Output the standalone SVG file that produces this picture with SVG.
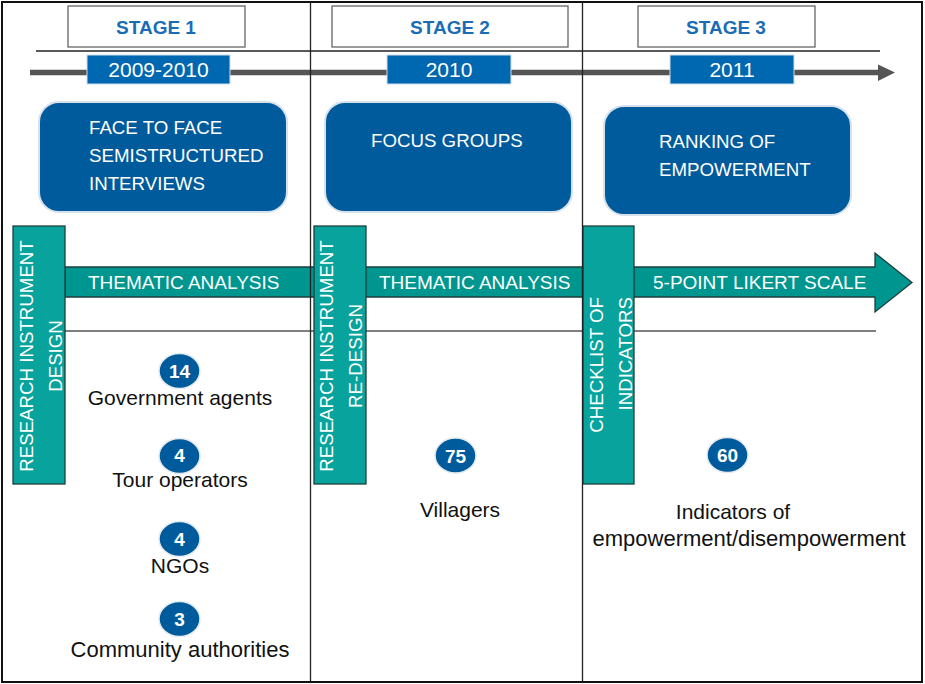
<svg xmlns="http://www.w3.org/2000/svg" width="925" height="684" viewBox="0 0 925 684">
  <defs>
    <style>
      .frame { fill: none; stroke: #111; stroke-width: 2; }
      .rule { stroke: #222; stroke-width: 1.3; fill: none; }
      .thin { stroke: #555; stroke-width: 1.5; fill: none; }
      .stagebox { fill: #fff; stroke: #666; stroke-width: 1.3; }
      .stagetxt { font-family: "Liberation Sans", Arial, sans-serif; font-weight: bold; font-size: 19px; fill: #1a6db5; text-anchor: middle; }
      .yearbox { fill: #0068b0; stroke: #d0dcea; stroke-width: 1; }
      .yeartxt { font-family: "Liberation Sans", Arial, sans-serif; font-size: 21px; fill: #fff; text-anchor: middle; }
      .method { fill: #005b9c; stroke: #d6e1ec; stroke-width: 2; }
      .methodtxt { font-family: "Liberation Sans", Arial, sans-serif; font-size: 18.7px; fill: #fff; }
      .bar { fill: #07a39c; stroke: #1c3f3e; stroke-width: 1.3; }
      .band { fill: #009690; stroke: #1c3f3e; stroke-width: 1.3; }
      .bandtxt { font-family: "Liberation Sans", Arial, sans-serif; font-size: 19px; fill: #fff; }
      .bartxt { font-family: "Liberation Sans", Arial, sans-serif; font-size: 18.7px; fill: #fff; }
      .badge { fill: #005b9c; stroke: #e4e9ef; stroke-width: 1.5; }
      .badgetxt { font-family: "Liberation Sans", Arial, sans-serif; font-weight: bold; font-size: 19px; fill: #fff; text-anchor: middle; }
      .label { font-family: "Liberation Sans", Arial, sans-serif; font-size: 21px; fill: #111; text-anchor: middle; }
    </style>
  </defs>

  <rect width="925" height="684" fill="#fff"/>

  <!-- stage headers -->
  <g id="stage1-header">
    <rect class="stagebox" x="68" y="6" width="177" height="41"/>
    <text class="stagetxt" x="156" y="34">STAGE 1</text>
  </g>
  <g id="stage2-header">
    <rect class="stagebox" x="332" y="6" width="236" height="41"/>
    <text class="stagetxt" x="450" y="34">STAGE 2</text>
  </g>
  <g id="stage3-header">
    <rect class="stagebox" x="638" y="6" width="177" height="41"/>
    <text class="stagetxt" x="726" y="34">STAGE 3</text>
  </g>

  <!-- connectors: timeline, process band and guide lines -->
  <g id="connectors">
    <line class="rule" x1="36" y1="51" x2="880" y2="51"/>
    <line x1="30" y1="72.5" x2="881" y2="72.5" stroke="#555" stroke-width="5.5"/>
    <polygon points="878,64.5 895,72.5 878,81" fill="#555"/>
    <polygon class="band" points="65,267 875,267 875,253 912,282.5 875,312 875,297 65,297"/>
    <line class="thin" x1="65" y1="331" x2="876" y2="331"/>
  </g>

  <!-- year tags -->
  <g id="year-2009-2010">
    <rect class="yearbox" x="87" y="55" width="143" height="29"/>
    <text class="yeartxt" x="158.5" y="77">2009-2010</text>
  </g>
  <g id="year-2010">
    <rect class="yearbox" x="387" y="55" width="124" height="29"/>
    <text class="yeartxt" x="449" y="77">2010</text>
  </g>
  <g id="year-2011">
    <rect class="yearbox" x="670" y="55" width="124" height="29"/>
    <text class="yeartxt" x="732" y="77">2011</text>
  </g>

  <!-- method boxes -->
  <g id="interviews">
    <rect class="method" x="39" y="102" width="248" height="110" rx="20"/>
    <text class="methodtxt" x="89" y="134">FACE TO FACE</text>
    <text class="methodtxt" x="89" y="162">SEMISTRUCTURED</text>
    <text class="methodtxt" x="89" y="190">INTERVIEWS</text>
  </g>
  <g id="focus-groups">
    <rect class="method" x="325" y="102" width="247" height="110" rx="20"/>
    <text class="methodtxt" x="371" y="147">FOCUS GROUPS</text>
  </g>
  <g id="ranking">
    <rect class="method" x="604" y="106" width="247" height="109" rx="20"/>
    <text class="methodtxt" x="659" y="148">RANKING OF</text>
    <text class="methodtxt" x="659" y="176">EMPOWERMENT</text>
  </g>

  <!-- band labels -->
  <g id="analysis-1">
    <text class="bandtxt" x="88" y="289">THEMATIC ANALYSIS</text>
  </g>
  <g id="analysis-2">
    <text class="bandtxt" x="379" y="289">THEMATIC ANALYSIS</text>
  </g>
  <g id="likert">
    <text class="bandtxt" x="653" y="289">5-POINT LIKERT SCALE</text>
  </g>

  <!-- instrument bars -->
  <g id="instrument-design">
    <rect class="bar" x="13" y="226" width="52" height="258"/>
    <text class="bartxt" transform="translate(33,356) rotate(-90)" text-anchor="middle">RESEARCH INSTRUMENT</text>
    <text class="bartxt" transform="translate(62,356) rotate(-90)" text-anchor="middle">DESIGN</text>
  </g>
  <g id="instrument-redesign">
    <rect class="bar" x="314" y="226" width="52" height="258"/>
    <text class="bartxt" transform="translate(333,356) rotate(-90)" text-anchor="middle">RESEARCH INSTRUMENT</text>
    <text class="bartxt" transform="translate(362,356) rotate(-90)" text-anchor="middle">RE-DESIGN</text>
  </g>
  <g id="checklist">
    <rect class="bar" x="583" y="226" width="51" height="258"/>
    <text class="bartxt" transform="translate(603,297) rotate(-90)" text-anchor="end">CHECKLIST OF</text>
    <text class="bartxt" transform="translate(632,297) rotate(-90)" text-anchor="end">INDICATORS</text>
  </g>

  <!-- participant counts -->
  <g id="government-agents">
    <ellipse class="badge" cx="179.5" cy="371" rx="20.5" ry="17.5"/>
    <text class="badgetxt" x="179.5" y="378">14</text>
    <text class="label" x="180" y="405">Government agents</text>
  </g>
  <g id="tour-operators">
    <ellipse class="badge" cx="179.5" cy="456" rx="20.5" ry="17.5"/>
    <text class="badgetxt" x="179.5" y="462">4</text>
    <text class="label" x="180" y="487">Tour operators</text>
  </g>
  <g id="ngos">
    <ellipse class="badge" cx="179.5" cy="539" rx="20.5" ry="17.5"/>
    <text class="badgetxt" x="179.5" y="546">4</text>
    <text class="label" x="180" y="573">NGOs</text>
  </g>
  <g id="community-authorities">
    <ellipse class="badge" cx="179.5" cy="619" rx="20.5" ry="17.5"/>
    <text class="badgetxt" x="179.5" y="626">3</text>
    <text class="label" x="180" y="657" style="font-size:22px">Community authorities</text>
  </g>
  <g id="villagers">
    <ellipse class="badge" cx="455.5" cy="455.5" rx="20.5" ry="17.5"/>
    <text class="badgetxt" x="455.5" y="462.5">75</text>
    <text class="label" x="460" y="517">Villagers</text>
  </g>
  <g id="indicators">
    <ellipse class="badge" cx="727.5" cy="455" rx="20.5" ry="17.5"/>
    <text class="badgetxt" x="727.5" y="462">60</text>
    <text class="label" x="733" y="519">Indicators of</text>
    <text class="label" x="749" y="546" style="font-size:22px">empowerment/disempowerment</text>
  </g>

  <!-- column dividers and outer frame -->
  <line class="rule" x1="310.5" y1="2" x2="310.5" y2="682"/>
  <line class="rule" x1="582.5" y1="2" x2="582.5" y2="682"/>
  <rect class="frame" x="2" y="2" width="920" height="680"/>
</svg>
